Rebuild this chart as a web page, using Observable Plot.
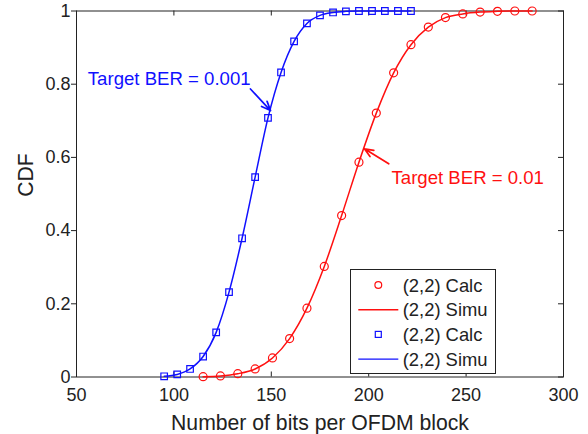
<!DOCTYPE html>
<html>
<head>
<meta charset="utf-8">
<script src="https://cdn.jsdelivr.net/npm/d3@7"></script>
<script src="https://cdn.jsdelivr.net/npm/@observablehq/plot@0.6"></script>
<style>
  html, body { margin: 0; padding: 0; background: #fff; }
  #chart { width: 588px; height: 434px; }
  #chart svg { display: block; }
</style>
</head>
<body>
<div id="chart"></div>
<script>
// Bits per OFDM block for the two BER targets
const bitsLow = [95, 101.7, 108.3, 115, 121.7, 128.3, 135, 141.7, 148.3, 155,
                 161.7, 168.3, 175, 181.7, 188.3, 195, 201.7, 208.3, 215, 221.7];
const cdfLow  = [0.002, 0.007, 0.022, 0.056, 0.122, 0.232, 0.379, 0.546, 0.708, 0.832,
                 0.917, 0.966, 0.988, 0.996, 0.999, 1, 1, 1, 1, 1];

const bitsHigh = [115, 123.9, 132.8, 141.7, 150.6, 159.4, 168.3, 177.2, 186.1, 195,
                  203.9, 212.8, 221.7, 230.6, 239.4, 248.3, 257.2, 266.1, 275, 283.9];
const cdfHigh  = [0.001, 0.003, 0.009, 0.022, 0.052, 0.105, 0.188, 0.302, 0.441, 0.587,
                  0.721, 0.831, 0.908, 0.956, 0.982, 0.992, 0.997, 0.999, 1, 1];

// Axis ticks
const xTicks = [50, 100, 150, 200, 250, 300];
const yTicks = [0, 0.2, 0.4, 0.6, 0.8, 1];

// Annotation labels and their arrows
const noteText = ["Target BER = 0.001", "Target BER = 0.01"];
const noteX = [55.8, 211.7];
const noteY = [0.815, 0.544];
const noteColor = ["#1010ff", "#ff1010"];
const arrowFrom = [[139.3, 0.787], [210.3, 0.5825]];
const arrowTo   = [[149.6, 0.728], [197.8, 0.6235]];

// Legend entries
const legendLabels = ["(2,2) Calc", "(2,2) Simu", "(2,2) Calc", "(2,2) Simu"];

const RED = "#ff1010", BLUE = "#1010ff", INK = "#222";
const FONT = "'Liberation Sans', Arial, Helvetica, sans-serif";

const W = 588, H = 434;
const mL = 76, mR = 25, mT = 10.5, mB = 57.5;
const plotW = W - mL - mR, plotH = H - mT - mB;

const low = bitsLow.map((b, i) => ({bits: b, cdf: cdfLow[i]}));
const high = bitsHigh.map((b, i) => ({bits: b, cdf: cdfHigh[i]}));
const notes = noteText.map((t, i) => ({text: t, x: noteX[i], y: noteY[i], color: noteColor[i]}));
const arrows = arrowFrom.map((f, i) => ({x1: f[0], y1: f[1], x2: arrowTo[i][0], y2: arrowTo[i][1], color: noteColor[i]}));

const chart = Plot.plot({
  width: W,
  height: H,
  marginLeft: mL,
  marginRight: mR,
  marginTop: mT,
  marginBottom: mB,
  style: {fontFamily: FONT, fontSize: "18px", color: INK, background: "#fff", overflow: "visible"},
  x: {domain: [50, 300]},
  y: {domain: [0, 1]},
  marks: [
    // tick labels
    Plot.axisX(xTicks, {anchor: "bottom", tickSize: 0, tickPadding: 11, fontSize: 18, label: null}),
    Plot.axisY(yTicks, {anchor: "left", tickSize: 5, tickPadding: 1, fontSize: 18, label: null,
                        tickFormat: d => String(d), stroke: INK}),
    // inward ticks on the bottom, top and right edges of the box
    Plot.tickX(xTicks, {x: d => d, insetTop: plotH - 5, stroke: INK}),
    Plot.tickX(xTicks, {x: d => d, insetBottom: plotH - 5, stroke: INK}),
    Plot.tickY(yTicks, {y: d => d, insetLeft: plotW - 5, stroke: INK}),
    Plot.frame({stroke: INK}),
    // simulated curves
    Plot.line(low, {x: "bits", y: "cdf", stroke: BLUE, strokeWidth: 1.5, curve: "monotone-x"}),
    Plot.line(high, {x: "bits", y: "cdf", stroke: RED, strokeWidth: 1.5, curve: "monotone-x"}),
    // calculated points
    Plot.dot(low, {x: "bits", y: "cdf", symbol: "square", r: 3.7, stroke: BLUE, fill: "none", strokeWidth: 1.2}),
    Plot.dot(high, {x: "bits", y: "cdf", symbol: "circle", r: 4, stroke: RED, fill: "none", strokeWidth: 1.2}),
    // annotations
    Plot.arrow(arrows, {x1: "x1", y1: "y1", x2: "x2", y2: "y2", stroke: "color",
                        strokeWidth: 1.7, headLength: 11, headAngle: 45}),
    Plot.text(notes, {x: "x", y: "y", text: "text", fill: "color", textAnchor: "start",
                      lineAnchor: "middle", fontSize: 18.6}),
    // axis titles
    Plot.text(["Number of bits per OFDM block"], {frameAnchor: "bottom", text: d => d,
              lineAnchor: "bottom", dy: 52.5, fontSize: 21.2, fill: INK}),
    Plot.text(["CDF"], {frameAnchor: "left", text: d => d, rotate: -90, lineAnchor: "middle",
              dx: -50.7, dy: 2.8, fontSize: 21.2, fill: INK})
  ]
});

// Legend box in the lower right of the axes
const svg = d3.select(chart);
const lg = svg.append("g")
  .attr("font-family", FONT)
  .attr("font-size", 18.4)
  .attr("text-anchor", "start");
const box = {x: 350.5, y: 269.5, w: 145, h: 104};
lg.append("rect").attr("x", box.x).attr("y", box.y).attr("width", box.w).attr("height", box.h)
  .attr("fill", "#fff").attr("stroke", INK).attr("stroke-width", 1);
const rowY = i => 285 + i * 24.7;
const glyphX = 378.3, lineX1 = 358.3, lineX2 = 398.3, textX = 402.7;
legendLabels.forEach((label, i) => {
  const color = i < 2 ? RED : BLUE;
  const y = rowY(i);
  if (i === 0) {
    lg.append("circle").attr("cx", glyphX).attr("cy", y).attr("r", 3.4)
      .attr("fill", "none").attr("stroke", color).attr("stroke-width", 1.2);
  } else if (i === 2) {
    lg.append("rect").attr("x", glyphX - 3).attr("y", y - 3).attr("width", 6).attr("height", 6)
      .attr("fill", "none").attr("stroke", color).attr("stroke-width", 1.2);
  } else {
    lg.append("line").attr("x1", lineX1).attr("x2", lineX2).attr("y1", y).attr("y2", y)
      .attr("stroke", color).attr("stroke-width", 1.4);
  }
  lg.append("text").attr("x", textX).attr("y", y + 6.6)
    .attr("fill", INK).attr("text-anchor", "start").text(label);
});

document.getElementById("chart").appendChild(chart);
</script>
</body>
</html>
